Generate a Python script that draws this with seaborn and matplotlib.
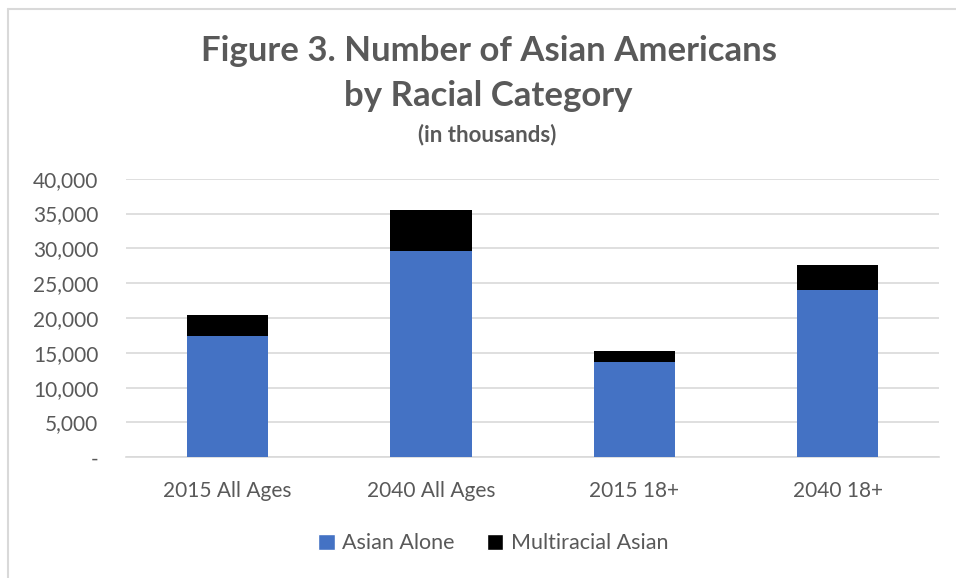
import pandas as pd
import matplotlib.pyplot as plt
import seaborn as sns
from matplotlib.patches import Patch
from matplotlib.lines import Line2D
from matplotlib.ticker import FuncFormatter

# Data (in thousands of people)
groups = ['2015 All Ages', '2040 All Ages', '2015 18+', '2040 18+']
asian_alone = [17480, 29560, 13700, 24070]
multiracial = [2950, 6010, 1570, 3580]

df = pd.DataFrame({'group': groups, 'alone': asian_alone, 'multi': multiracial})
df['total'] = df['alone'] + df['multi']

BLUE = '#4472C4'
TEXT = '#595959'
GRID = '#D9D9D9'

sns.set_theme(style='white')
plt.rcParams['font.family'] = ['Lato', 'DejaVu Sans']

fig = plt.figure(figsize=(9.56, 5.78), dpi=100)
ax = fig.add_axes([0.1318, 0.2088, 0.8507, 0.4820])

# stacked bars: totals in black underneath, Asian alone in blue on top
sns.barplot(data=df, x='group', y='total', color='black', width=0.4,
            saturation=1, linewidth=0, edgecolor='none', ax=ax, zorder=2)
sns.barplot(data=df, x='group', y='alone', color=BLUE, width=0.4,
            saturation=1, linewidth=0, edgecolor='none', ax=ax, zorder=3)

ax.set_ylim(0, 40000)
ax.set_yticks(range(0, 40001, 5000))
ax.yaxis.set_major_formatter(FuncFormatter(lambda v, p: '-' if v == 0 else f'{int(v):,}'))
ax.grid(axis='y', color=GRID, linewidth=1.2, zorder=0)
ax.set_axisbelow(True)
for side in ['left', 'right', 'top']:
    ax.spines[side].set_visible(False)
ax.spines['bottom'].set_color(GRID)
ax.spines['bottom'].set_linewidth(1.2)
ax.set_xlabel('')
ax.set_ylabel('')
ax.tick_params(axis='both', length=0, labelsize=15, colors=TEXT)
ax.tick_params(axis='y', pad=20)
ax.tick_params(axis='x', pad=17)

# titles
fig.text(0.511, 0.912, 'Figure 3. Number of Asian Americans', ha='center', va='center',
         fontsize=25, fontweight='bold', color=TEXT)
fig.text(0.511, 0.834, 'by Racial Category', ha='center', va='center',
         fontsize=25, fontweight='bold', color=TEXT)
fig.text(0.510, 0.768, '(in thousands)', ha='center', va='center',
         fontsize=16, fontweight='bold', color=TEXT)

handles = [Patch(facecolor=BLUE, label='Asian Alone'),
           Patch(facecolor='black', label='Multiracial Asian')]
leg = fig.legend(handles=handles, loc='center', bbox_to_anchor=(0.516, 0.060), ncol=2,
                 frameon=False, fontsize=15.5, handlelength=0.75, handleheight=0.75,
                 handletextpad=0.35, columnspacing=1.5)
for t in leg.get_texts():
    t.set_color(TEXT)

# chart frame: only the left and top edges are visible in the crop
fig.add_artist(Line2D([0.0085, 0.0085], [0, 0.985], transform=fig.transFigure,
                      color=GRID, linewidth=1.5))
fig.add_artist(Line2D([0.0085, 1.0], [0.985, 0.985], transform=fig.transFigure,
                      color=GRID, linewidth=1.5))

fig.savefig('out.png', dpi=100)
